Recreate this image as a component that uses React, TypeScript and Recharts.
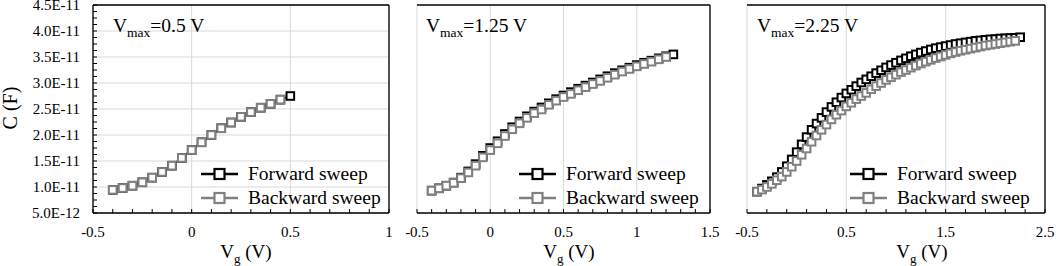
import React from 'react';
import { LineChart, Line, XAxis, YAxis, CartesianGrid, ReferenceLine } from 'recharts';

const FONT = '"Liberation Serif", "Times New Roman", Times, serif';
const BLACK = '#000000';
const GREY = '#808080';
const GRID = '#d9d9d9';
const H = 266;

// Capacitance values are kept in pF; axis labels are printed in farads.
const PF = 1e-12;

// ---- V_max = 0.5 V ----
const vg1Fwd = [-0.4, -0.35, -0.3, -0.25, -0.2, -0.15, -0.1, -0.05, 0, 0.05, 0.1, 0.15, 0.2, 0.25, 0.3, 0.35, 0.4, 0.45, 0.5];
const c1Fwd = [9.45, 9.8, 10.25, 10.9, 11.8, 12.9, 14.1, 15.6, 17.1, 18.6, 20.0, 21.3, 22.4, 23.5, 24.4, 25.25, 26.0, 26.8, 27.5];
const vg1Bwd = [-0.4, -0.35, -0.3, -0.25, -0.2, -0.15, -0.1, -0.05, 0, 0.05, 0.1, 0.15, 0.2, 0.25, 0.3, 0.35, 0.4, 0.45];
const c1Bwd = [9.45, 9.8, 10.25, 10.9, 11.8, 12.9, 14.1, 15.6, 17.1, 18.6, 20.0, 21.3, 22.4, 23.5, 24.4, 25.25, 26.0, 26.8];

// ---- V_max = 1.25 V ----
const vg2Fwd = [-0.4, -0.35, -0.3, -0.25, -0.2, -0.15, -0.1, -0.05, 0, 0.05, 0.1, 0.15, 0.2, 0.25, 0.3, 0.35, 0.4, 0.45, 0.5, 0.55, 0.6, 0.65, 0.7, 0.75, 0.8, 0.85, 0.9, 0.95, 1.0, 1.05, 1.1, 1.15, 1.2, 1.25];
const c2Fwd = [9.3, 9.75, 10.25, 10.85, 11.8, 13.0, 14.4, 16.0, 17.5, 18.8, 20.2, 21.5, 22.6, 23.6, 24.5, 25.3, 26.1, 26.9, 27.6, 28.25, 28.9, 29.5, 30.1, 30.7, 31.3, 31.9, 32.45, 32.95, 33.45, 33.9, 34.3, 34.75, 35.15, 35.5];
const vg2Bwd = [-0.4, -0.35, -0.3, -0.25, -0.2, -0.15, -0.1, -0.05, 0, 0.05, 0.1, 0.15, 0.2, 0.25, 0.3, 0.35, 0.4, 0.45, 0.5, 0.55, 0.6, 0.65, 0.7, 0.75, 0.8, 0.85, 0.9, 0.95, 1.0, 1.05, 1.1, 1.15, 1.2];
const c2Bwd = [9.3, 9.75, 10.25, 10.8, 11.7, 12.8, 14.1, 15.7, 17.1, 18.4, 19.8, 21.1, 22.25, 23.3, 24.2, 24.9, 25.8, 26.6, 27.3, 27.9, 28.6, 29.2, 29.8, 30.4, 31.0, 31.6, 32.2, 32.7, 33.2, 33.65, 34.1, 34.55, 35.0];

// ---- V_max = 2.25 V ----
const vg3Fwd = [-0.4, -0.35, -0.3, -0.25, -0.2, -0.15, -0.1, -0.05, 0, 0.05, 0.1, 0.15, 0.2, 0.25, 0.3, 0.35, 0.4, 0.45, 0.5, 0.55, 0.6, 0.65, 0.7, 0.75, 0.8, 0.85, 0.9, 0.95, 1.0, 1.05, 1.1, 1.15, 1.2, 1.25, 1.3, 1.35, 1.4, 1.45, 1.5, 1.55, 1.6, 1.65, 1.7, 1.75, 1.8, 1.85, 1.9, 1.95, 2.0, 2.05, 2.1, 2.15, 2.2, 2.25];
const c3Fwd = [9.1, 9.7, 10.4, 11.1, 11.9, 12.9, 14.0, 15.3, 16.7, 18.2, 19.6, 21.0, 22.2, 23.3, 24.4, 25.4, 26.3, 27.2, 28.0, 28.7, 29.4, 30.1, 30.7, 31.3, 31.9, 32.45, 33.0, 33.45, 33.9, 34.35, 34.75, 35.15, 35.5, 35.85, 36.15, 36.45, 36.7, 36.9, 37.1, 37.3, 37.5, 37.65, 37.8, 37.95, 38.1, 38.2, 38.3, 38.4, 38.45, 38.55, 38.6, 38.65, 38.7, 38.8];
const vg3Bwd = [-0.4, -0.35, -0.3, -0.25, -0.2, -0.15, -0.1, -0.05, 0, 0.05, 0.1, 0.15, 0.2, 0.25, 0.3, 0.35, 0.4, 0.45, 0.5, 0.55, 0.6, 0.65, 0.7, 0.75, 0.8, 0.85, 0.9, 0.95, 1.0, 1.05, 1.1, 1.15, 1.2, 1.25, 1.3, 1.35, 1.4, 1.45, 1.5, 1.55, 1.6, 1.65, 1.7, 1.75, 1.8, 1.85, 1.9, 1.95, 2.0, 2.05, 2.1, 2.15, 2.2];
const c3Bwd = [9.1, 9.5, 10.0, 10.6, 11.3, 12.0, 12.9, 13.9, 15.0, 16.2, 17.4, 18.7, 19.9, 21.0, 22.0, 23.0, 23.9, 24.7, 25.5, 26.2, 26.9, 27.5, 28.1, 28.8, 29.4, 30.0, 30.6, 31.1, 31.6, 32.1, 32.5, 32.95, 33.35, 33.75, 34.1, 34.45, 34.8, 35.1, 35.4, 35.7, 35.95, 36.2, 36.4, 36.6, 36.8, 37.0, 37.2, 37.35, 37.5, 37.65, 37.8, 37.95, 38.1];

// ---- Axes ----
const yDomain: [number, number] = [5, 45];
const yMajor = [5, 10, 15, 20, 25, 30, 35, 40, 45];
const yMinor = [5, 6.25, 7.5, 8.75, 10, 11.25, 12.5, 13.75, 15, 16.25, 17.5, 18.75, 20, 21.25, 22.5, 23.75, 25, 26.25, 27.5, 28.75, 30, 31.25, 32.5, 33.75, 35, 36.25, 37.5, 38.75, 40, 41.25, 42.5, 43.75, 45];

const x1Major = [-0.5, 0, 0.5, 1];
const x1Minor = [-0.5, -0.4, -0.3, -0.2, -0.1, 0, 0.1, 0.2, 0.3, 0.4, 0.5, 0.6, 0.7, 0.8, 0.9, 1];
const x2Major = [-0.5, 0, 0.5, 1, 1.5];
const x2Minor = [-0.5, -0.4, -0.3, -0.2, -0.1, 0, 0.1, 0.2, 0.3, 0.4, 0.5, 0.6, 0.7, 0.8, 0.9, 1, 1.1, 1.2, 1.3, 1.4, 1.5];
const x3Major = [-0.5, 0.5, 1.5, 2.5];
const x3Minor = [-0.5, -0.3, -0.1, 0.1, 0.3, 0.5, 0.7, 0.9, 1.1, 1.3, 1.5, 1.7, 1.9, 2.1, 2.3, 2.5];

const vmaxLabels = ['0.5', '1.25', '2.25'];
const seriesNames = ['Forward sweep', 'Backward sweep'];

type Pt = { v: number; c: number };
const toPoints = (vs: number[], cs: number[]): Pt[] => vs.map((v, i) => ({ v, c: cs[i] }));

const isIn = (val: number, list: number[]) => list.some((m) => Math.abs(m - val) < 1e-9);

const fmtY = (v: number) => (v * PF).toExponential(1).toUpperCase();

const XTick = (props: any) => {
  const { x, y, payload, majors } = props;
  const major = isIn(payload.value, majors);
  return (
    <g>
      <line x1={x} x2={x} y1={y} y2={y - 4} stroke={BLACK} strokeWidth={1} />
      {major && (
        <text x={x} y={y + 24} textAnchor="middle" fontFamily={FONT} fontSize={15} fill={BLACK}>
          {String(payload.value)}
        </text>
      )}
    </g>
  );
};

const YTick = (props: any) => {
  const { x, y, payload } = props;
  const major = isIn(payload.value, yMajor);
  return (
    <g>
      <line x1={x} x2={x + 4} y1={y} y2={y} stroke={BLACK} strokeWidth={1} />
      {major && (
        <text x={x - 13} y={y + 5} textAnchor="end" fontFamily={FONT} fontSize={15} fill={BLACK}>
          {fmtY(payload.value)}
        </text>
      )}
    </g>
  );
};

const squareDot = (stroke: string) => (props: any) => {
  const { cx, cy, index } = props;
  if (cx == null || cy == null) return <g key={`e-${index}`} />;
  return (
    <rect
      key={`sq-${index}`}
      x={cx - 3.8}
      y={cy - 3.8}
      width={7.6}
      height={7.6}
      fill="#ffffff"
      stroke={stroke}
      strokeWidth={2}
    />
  );
};

type PanelProps = {
  left: number;
  width: number;
  margin: { top: number; right: number; bottom: number; left: number };
  xDomain: [number, number];
  xMajor: number[];
  xMinor: number[];
  withY: boolean;
  fwd: Pt[];
  bwd: Pt[];
};

function Panel(p: PanelProps) {
  return (
    <div style={{ position: 'absolute', left: p.left, top: 0 }}>
      <LineChart width={p.width} height={H} margin={p.margin}>
        <CartesianGrid stroke={GRID} strokeWidth={1} horizontalValues={yMajor} verticalValues={p.xMajor} />
        <XAxis
          type="number"
          dataKey="v"
          domain={p.xDomain}
          ticks={p.xMinor}
          interval={0}
          allowDataOverflow
          height={30}
          tickSize={0}
          tickMargin={0}
          tickLine={false}
          axisLine={{ stroke: BLACK, strokeWidth: 1.3 }}
          tick={(t: any) => <XTick {...t} majors={p.xMajor} />}
        />
        {p.withY ? (
          <YAxis
            type="number"
            domain={yDomain}
            ticks={yMinor}
            interval={0}
            allowDataOverflow
            width={80}
            tickSize={0}
            tickMargin={0}
            tickLine={false}
            axisLine={{ stroke: BLACK, strokeWidth: 1.3 }}
            tick={(t: any) => <YTick {...t} />}
          />
        ) : (
          <YAxis
            type="number"
            domain={yDomain}
            ticks={yMajor}
            allowDataOverflow
            width={0}
            tick={false}
            tickLine={false}
            axisLine={{ stroke: BLACK, strokeWidth: 1.3 }}
          />
        )}
        <ReferenceLine y={yDomain[1]} stroke={BLACK} strokeWidth={1.3} />
        <ReferenceLine x={p.xDomain[1]} stroke={BLACK} strokeWidth={1.3} />
        <Line
          data={p.fwd}
          dataKey="c"
          stroke={BLACK}
          strokeWidth={2}
          dot={squareDot(BLACK)}
          activeDot={false}
          isAnimationActive={false}
        />
        <Line
          data={p.bwd}
          dataKey="c"
          stroke={GREY}
          strokeWidth={2}
          dot={squareDot(GREY)}
          activeDot={false}
          isAnimationActive={false}
        />
      </LineChart>
    </div>
  );
}

function LegendBlock({ lineX }: { lineX: number }) {
  const rows = [
    { y: 174, color: BLACK, name: seriesNames[0] },
    { y: 198, color: GREY, name: seriesNames[1] },
  ];
  return (
    <g>
      {rows.map((r) => (
        <g key={r.name}>
          <line x1={lineX} x2={lineX + 37} y1={r.y} y2={r.y} stroke={r.color} strokeWidth={2.5} />
          <rect x={lineX + 13.5} y={r.y - 5} width={10} height={10} fill="#ffffff" stroke={r.color} strokeWidth={2.2} />
          <text x={lineX + 47} y={r.y + 6} fontFamily={FONT} fontSize={19.5} fill={BLACK}>
            {r.name}
          </text>
        </g>
      ))}
    </g>
  );
}

function VmaxLabel({ x, value }: { x: number; value: string }) {
  return (
    <text x={x} y={32} fontFamily={FONT} fontSize={19.5} fill={BLACK}>
      V
      <tspan fontSize={13.5} dy={4.5}>max</tspan>
      <tspan dy={-4.5}>{`=${value} V`}</tspan>
    </text>
  );
}

function VgTitle({ cx }: { cx: number }) {
  return (
    <text x={cx} y={258} textAnchor="middle" fontFamily={FONT} fontSize={19} fill={BLACK}>
      V
      <tspan fontSize={13} dy={5}>g</tspan>
      <tspan dy={-5}> (V)</tspan>
    </text>
  );
}

export default function App() {
  return (
    <div style={{ position: 'absolute', left: 0, top: 0, width: 1056, height: H, background: '#ffffff', overflow: 'hidden' }}>
      <Panel
        left={0}
        width={400}
        margin={{ top: 5, right: 11, bottom: 23, left: 13 }}
        xDomain={[-0.5, 1]}
        xMajor={x1Major}
        xMinor={x1Minor}
        withY
        fwd={toPoints(vg1Fwd, c1Fwd)}
        bwd={toPoints(vg1Bwd, c1Bwd)}
      />
      <Panel
        left={400}
        width={320}
        margin={{ top: 5, right: 10, bottom: 23, left: 17 }}
        xDomain={[-0.5, 1.5]}
        xMajor={x2Major}
        xMinor={x2Minor}
        withY={false}
        fwd={toPoints(vg2Fwd, c2Fwd)}
        bwd={toPoints(vg2Bwd, c2Bwd)}
      />
      <Panel
        left={720}
        width={336}
        margin={{ top: 5, right: 11, bottom: 23, left: 27 }}
        xDomain={[-0.5, 2.5]}
        xMajor={x3Major}
        xMinor={x3Minor}
        withY={false}
        fwd={toPoints(vg3Fwd, c3Fwd)}
        bwd={toPoints(vg3Bwd, c3Bwd)}
      />
      <svg width={1056} height={H} style={{ position: 'absolute', left: 0, top: 0, pointerEvents: 'none' }}>
        <text
          transform="translate(17,108) rotate(-90)"
          textAnchor="middle"
          fontFamily={FONT}
          fontSize={20}
          fill={BLACK}
        >
          C (F)
        </text>
        <VmaxLabel x={113} value={vmaxLabels[0]} />
        <VmaxLabel x={426} value={vmaxLabels[1]} />
        <VmaxLabel x={757} value={vmaxLabels[2]} />
        <LegendBlock lineX={201} />
        <LegendBlock lineX={519} />
        <LegendBlock lineX={850} />
        <VgTitle cx={246} />
        <VgTitle cx={569} />
        <VgTitle cx={922} />
      </svg>
    </div>
  );
}
